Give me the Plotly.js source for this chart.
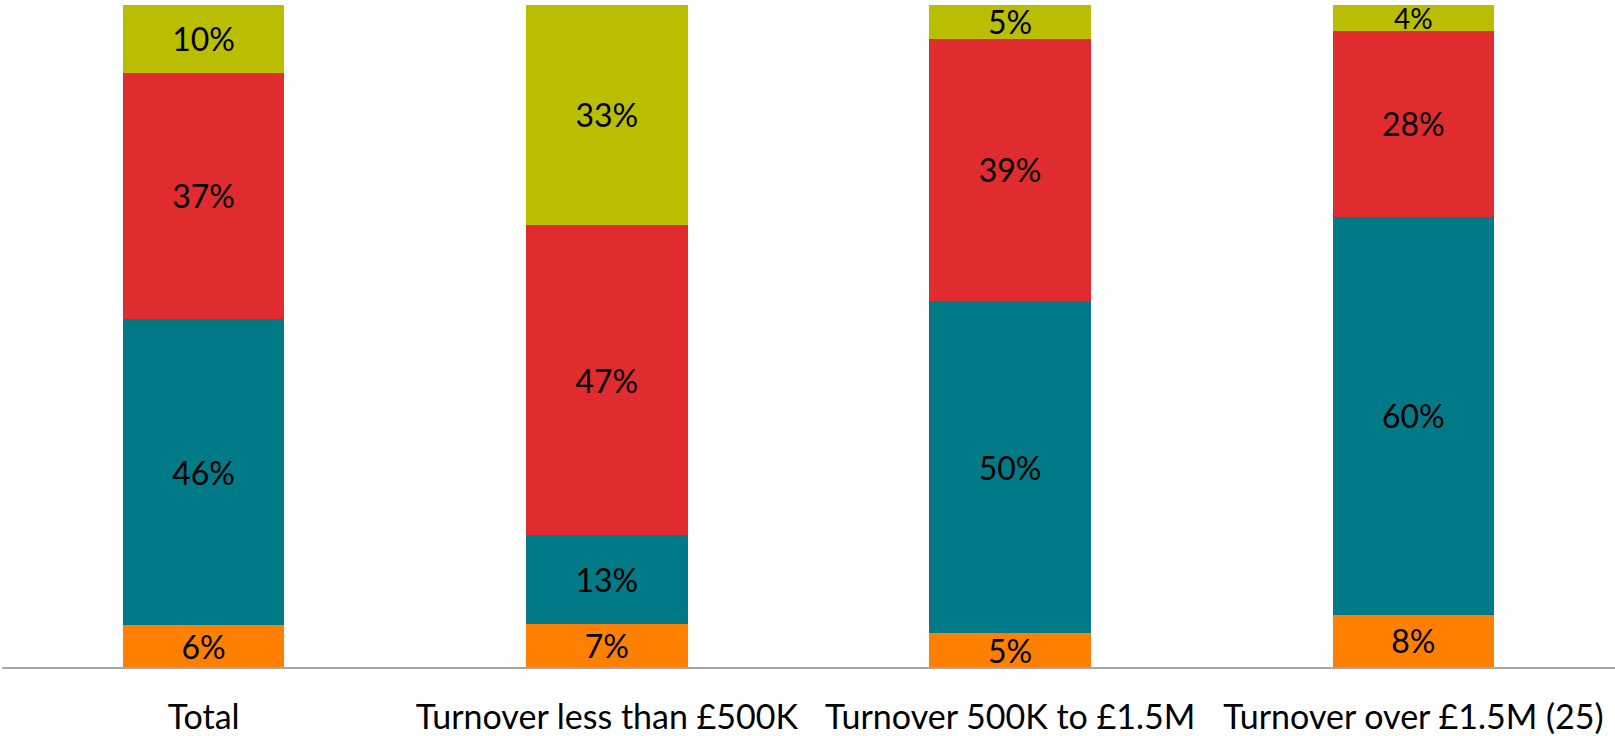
<!DOCTYPE html>
<html>
<head>
<meta charset="utf-8">
<script src="https://cdn.plot.ly/plotly-3.0.1.min.js"></script>
<style>html,body{margin:0;padding:0;background:#fff;}#chart{width:1615px;height:736px;}</style>
</head>
<body>
<div id="chart"></div>
<script>
var categories = ["Total", "Turnover less than £500K", "Turnover 500K to £1.5M", "Turnover over £1.5M (25)"];
var orangeVals = [6.3, 6.5, 5.1, 7.9];
var tealVals   = [46.2, 13.4, 50.2, 60.1];
var redVals    = [37.3, 46.9, 39.6, 28.1];
var yellowVals = [10.2, 33.2, 5.1, 3.9];
var orangeLabels = ["6%", "7%", "5%", "8%"];
var tealLabels   = ["46%", "13%", "50%", "60%"];
var redLabels    = ["37%", "47%", "39%", "28%"];
var yellowLabels = ["10%", "33%", "5%", "4%"];

var font = "Lato, 'Open Sans', sans-serif";
function series(vals, labels, color, size) {
  return {
    type: "bar", x: categories, y: vals, text: labels,
    textposition: "inside", insidetextanchor: "middle", textangle: 0,
    constraintext: "none", cliponaxis: false,
    textfont: {family: font, size: size, color: "#000"},
    marker: {color: color, line: {width: 0}},
    hoverinfo: "skip"
  };
}
var data = [
  series(orangeVals, orangeLabels, "#FF8000", 32),
  series(tealVals, tealLabels, "#007A87", 32),
  series(redVals, redLabels, "#E02C2E", 32),
  series(yellowVals, yellowLabels, "#B9BF00", [32, 32, 32, 28])
];
var layout = {
  barmode: "stack",
  bargap: 0.6,
  showlegend: false,
  width: 1615, height: 736,
  margin: {l: 2, r: 0, t: 5, b: 69},
  paper_bgcolor: "#fff", plot_bgcolor: "#fff",
  xaxis: {
    showline: true, linecolor: "#A6A6A6", linewidth: 2,
    ticks: "", showgrid: false, zeroline: false,
    tickfont: {family: font, size: 34, color: "#000"},
    ticklabelstandoff: 19
  },
  yaxis: {range: [0, 100], visible: false, showgrid: false, zeroline: false}
};
Plotly.newPlot("chart", data, layout, {displayModeBar: false, staticPlot: true});
</script>
</body>
</html>
